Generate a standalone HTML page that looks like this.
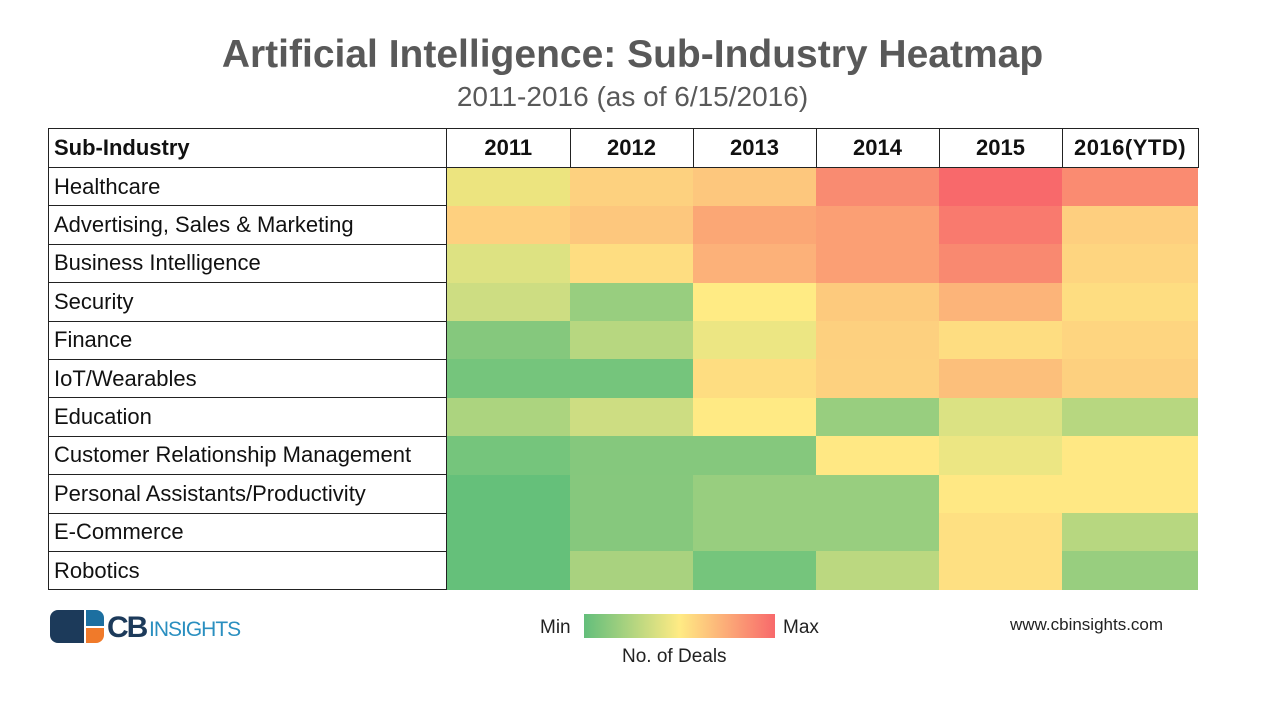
<!DOCTYPE html>
<html><head><meta charset="utf-8"><style>
body{margin:0;width:1265px;height:703px;background:#fff;position:relative;overflow:hidden;font-family:"Liberation Sans",sans-serif;}
.t{position:absolute;left:0;width:1265px;text-align:center;color:#595959;}
table{position:absolute;left:48px;top:128px;border-collapse:collapse;}
td{height:37.4px;padding:0;font-size:22px;color:#111;}
td.l{width:391px;border:1.5px solid #222;background:#fff;padding-left:5px;}
td.c{width:123px;}
th{height:36px;border:1.5px solid #222;font-size:22px;font-weight:bold;color:#111;}
th.l{text-align:left;padding-left:5px;width:391px;}
</style></head><body>
<div class="t" style="top:33px;font-size:39px;font-weight:bold;">Artificial Intelligence: Sub-Industry Heatmap</div>
<div class="t" style="top:81px;font-size:28px;">2011-2016 (as of 6/15/2016)</div>
<table>
<tr><th class="l">Sub-Industry</th><th>2011</th><th>2012</th><th>2013</th><th>2014</th><th>2015</th><th style="width:133px;letter-spacing:0.5px">2016(YTD)</th></tr>
<tr><td class="l">Healthcare</td><td class="c" style="background:#ece47f"></td><td class="c" style="background:#fdd17f"></td><td class="c" style="background:#fdc77d"></td><td class="c" style="background:#f98b71"></td><td class="c" style="background:#f8696b"></td><td class="c" style="background:#fa8b71"></td></tr>
<tr><td class="l">Advertising, Sales &amp; Marketing</td><td class="c" style="background:#fed07f"></td><td class="c" style="background:#fdc77d"></td><td class="c" style="background:#fba775"></td><td class="c" style="background:#fb9f74"></td><td class="c" style="background:#f97a6e"></td><td class="c" style="background:#fecf7f"></td></tr>
<tr><td class="l">Business Intelligence</td><td class="c" style="background:#dde282"></td><td class="c" style="background:#fedd81"></td><td class="c" style="background:#fcb179"></td><td class="c" style="background:#fb9f74"></td><td class="c" style="background:#f98970"></td><td class="c" style="background:#fed580"></td></tr>
<tr><td class="l">Security</td><td class="c" style="background:#cddd82"></td><td class="c" style="background:#98ce7f"></td><td class="c" style="background:#ffeb84"></td><td class="c" style="background:#fdca7d"></td><td class="c" style="background:#fcb479"></td><td class="c" style="background:#fedd81"></td></tr>
<tr><td class="l">Finance</td><td class="c" style="background:#85c87d"></td><td class="c" style="background:#b7d780"></td><td class="c" style="background:#ece683"></td><td class="c" style="background:#fdd07f"></td><td class="c" style="background:#fedd81"></td><td class="c" style="background:#fed580"></td></tr>
<tr><td class="l">IoT/Wearables</td><td class="c" style="background:#75c57c"></td><td class="c" style="background:#75c57c"></td><td class="c" style="background:#fedd81"></td><td class="c" style="background:#fdd17f"></td><td class="c" style="background:#fcbf7b"></td><td class="c" style="background:#fdd07f"></td></tr>
<tr><td class="l">Education</td><td class="c" style="background:#acd47f"></td><td class="c" style="background:#cddd82"></td><td class="c" style="background:#ffea84"></td><td class="c" style="background:#98ce7f"></td><td class="c" style="background:#dbe283"></td><td class="c" style="background:#b7d780"></td></tr>
<tr><td class="l">Customer Relationship Management</td><td class="c" style="background:#75c57c"></td><td class="c" style="background:#85c87d"></td><td class="c" style="background:#85c87d"></td><td class="c" style="background:#ffe884"></td><td class="c" style="background:#ece683"></td><td class="c" style="background:#ffe884"></td></tr>
<tr><td class="l">Personal Assistants/Productivity</td><td class="c" style="background:#65c07a"></td><td class="c" style="background:#86c87d"></td><td class="c" style="background:#98ce7f"></td><td class="c" style="background:#98ce7f"></td><td class="c" style="background:#ffe884"></td><td class="c" style="background:#ffe884"></td></tr>
<tr><td class="l">E-Commerce</td><td class="c" style="background:#65c07a"></td><td class="c" style="background:#86c87d"></td><td class="c" style="background:#98ce7f"></td><td class="c" style="background:#98ce7f"></td><td class="c" style="background:#fee082"></td><td class="c" style="background:#b7d780"></td></tr>
<tr><td class="l">Robotics</td><td class="c" style="background:#65c07a"></td><td class="c" style="background:#a9d27f"></td><td class="c" style="background:#75c57c"></td><td class="c" style="background:#bbd880"></td><td class="c" style="background:#fee082"></td><td class="c" style="background:#98ce7f"></td></tr>
</table>
<div style="position:absolute;left:50px;top:610px;width:34px;height:33px;background:#1c3a5a;border-radius:8px 0 0 8px;"></div>
<div style="position:absolute;left:86px;top:610px;width:18px;height:16px;background:#1c6fa0;border-radius:0 8px 0 0;"></div>
<div style="position:absolute;left:86px;top:628px;width:18px;height:15px;background:#f07a2a;border-radius:0 0 8px 0;"></div>
<div style="position:absolute;left:107px;top:611px;font-size:30px;font-weight:bold;color:#1c3a5a;letter-spacing:-2px;">CB</div>
<div style="position:absolute;left:149px;top:618px;font-size:21px;color:#2a8fc0;letter-spacing:-1px;">INSIGHTS</div>
<div style="position:absolute;left:540px;top:617px;font-size:19px;color:#222;">Min</div>
<div style="position:absolute;left:584px;top:614px;width:191px;height:24px;background:linear-gradient(to right,#63be7b,#ffeb84 50%,#f8696b);"></div>
<div style="position:absolute;left:783px;top:617px;font-size:19px;color:#222;">Max</div>
<div style="position:absolute;left:622px;top:646px;font-size:19px;color:#222;">No. of Deals</div>
<div style="position:absolute;left:1010px;top:615px;font-size:17px;color:#222;">www.cbinsights.com</div>
</body></html>
